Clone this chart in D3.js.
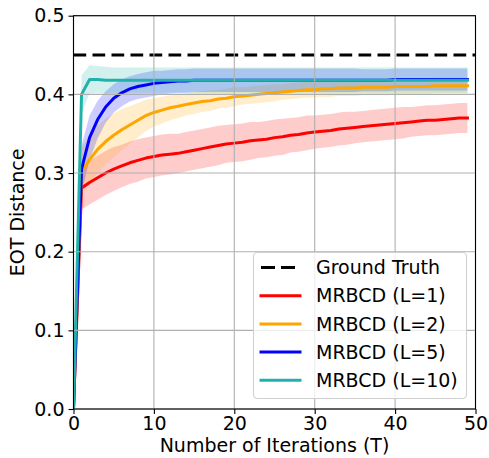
<!DOCTYPE html>
<html>
<head>
<meta charset="utf-8">
<script src="https://cdn.jsdelivr.net/npm/d3@7"></script>
<style>
  html, body { margin: 0; padding: 0; background: #fff; }
  svg { display: block; font-family: "DejaVu Sans", sans-serif; }
</style>
</head>
<body>
<svg id="chart" width="489" height="458"></svg>
<script>
// Iteration index T = 0..49
const iterations = d3.range(0, 50);

const groundTruth = 0.45;

// Mean EOT distance per iteration
const meanL1 = [
  0.000, 0.281, 0.288, 0.294, 0.300, 0.305, 0.309, 0.313, 0.316, 0.319,
  0.321, 0.323, 0.324, 0.325, 0.327, 0.329, 0.331, 0.333, 0.335, 0.337,
  0.338, 0.339, 0.341, 0.342, 0.343, 0.345, 0.346, 0.348, 0.349, 0.351,
  0.352, 0.353, 0.354, 0.356, 0.357, 0.358, 0.359, 0.360, 0.361, 0.362,
  0.363, 0.364, 0.365, 0.366, 0.367, 0.367, 0.368, 0.369, 0.370, 0.370
];
const meanL2 = [
  0.000, 0.302, 0.317, 0.330, 0.340, 0.348, 0.355, 0.361, 0.367, 0.373,
  0.377, 0.380, 0.383, 0.385, 0.387, 0.389, 0.391, 0.392, 0.394, 0.395,
  0.397, 0.398, 0.399, 0.400, 0.401, 0.402, 0.403, 0.404, 0.405, 0.406,
  0.406, 0.407, 0.407, 0.408, 0.408, 0.408, 0.409, 0.409, 0.409, 0.409,
  0.410, 0.410, 0.410, 0.410, 0.410, 0.411, 0.411, 0.411, 0.411, 0.411
];
const meanL5 = [
  0.000, 0.305, 0.345, 0.368, 0.384, 0.395, 0.402, 0.407, 0.410, 0.412,
  0.414, 0.415, 0.416, 0.417, 0.417, 0.418, 0.418, 0.418, 0.418, 0.418,
  0.418, 0.418, 0.418, 0.418, 0.418, 0.418, 0.418, 0.418, 0.418, 0.418,
  0.418, 0.418, 0.418, 0.418, 0.418, 0.418, 0.418, 0.418, 0.418, 0.418,
  0.419, 0.419, 0.419, 0.419, 0.419, 0.419, 0.419, 0.419, 0.419, 0.419
];
const meanL10 = [
  0.000, 0.400, 0.419, 0.419, 0.418, 0.418, 0.418, 0.418, 0.418, 0.418,
  0.418, 0.418, 0.418, 0.418, 0.418, 0.418, 0.418, 0.418, 0.418, 0.418,
  0.418, 0.418, 0.418, 0.418, 0.418, 0.418, 0.418, 0.418, 0.418, 0.418,
  0.418, 0.418, 0.418, 0.418, 0.418, 0.418, 0.418, 0.418, 0.418, 0.418,
  0.418, 0.418, 0.418, 0.418, 0.418, 0.418, 0.418, 0.418, 0.418, 0.418
];

// Spread (half-width of the shaded band) per iteration
const spreadL1 = [
  0.000, 0.027, 0.028, 0.028, 0.028, 0.028, 0.027, 0.027, 0.027, 0.026,
  0.026, 0.026, 0.026, 0.025, 0.025, 0.025, 0.025, 0.025, 0.025, 0.024,
  0.024, 0.024, 0.024, 0.023, 0.023, 0.023, 0.023, 0.022, 0.022, 0.022,
  0.021, 0.021, 0.021, 0.021, 0.021, 0.020, 0.020, 0.020, 0.020, 0.020,
  0.020, 0.020, 0.019, 0.019, 0.019, 0.019, 0.019, 0.019, 0.019, 0.019
];
const spreadL2 = [
  0.000, 0.030, 0.031, 0.030, 0.029, 0.028, 0.026, 0.024, 0.022, 0.020,
  0.018, 0.017, 0.016, 0.015, 0.014, 0.014, 0.013, 0.013, 0.012, 0.012,
  0.012, 0.011, 0.011, 0.011, 0.011, 0.011, 0.010, 0.010, 0.010, 0.010,
  0.010, 0.010, 0.010, 0.010, 0.010, 0.010, 0.010, 0.010, 0.010, 0.010,
  0.010, 0.010, 0.010, 0.010, 0.010, 0.010, 0.010, 0.010, 0.010, 0.010
];
const spreadL5 = [
  0.000, 0.030, 0.028, 0.024, 0.020, 0.018, 0.017, 0.016, 0.016, 0.016,
  0.016, 0.015, 0.015, 0.015, 0.015, 0.015, 0.015, 0.015, 0.015, 0.015,
  0.015, 0.015, 0.015, 0.015, 0.015, 0.015, 0.015, 0.015, 0.015, 0.015,
  0.015, 0.015, 0.015, 0.015, 0.015, 0.015, 0.014, 0.014, 0.014, 0.014,
  0.014, 0.014, 0.014, 0.014, 0.014, 0.014, 0.014, 0.014, 0.014, 0.014
];
const spreadL10 = [
  0.000, 0.024, 0.018, 0.017, 0.017, 0.016, 0.016, 0.016, 0.016, 0.016,
  0.016, 0.016, 0.016, 0.016, 0.016, 0.016, 0.016, 0.016, 0.016, 0.016,
  0.016, 0.016, 0.016, 0.016, 0.016, 0.016, 0.016, 0.016, 0.016, 0.016,
  0.016, 0.016, 0.016, 0.016, 0.016, 0.016, 0.016, 0.016, 0.016, 0.016,
  0.016, 0.016, 0.016, 0.016, 0.016, 0.016, 0.016, 0.016, 0.016, 0.016
];

const seriesLabels = ["MRBCD (L=1)", "MRBCD (L=2)", "MRBCD (L=5)", "MRBCD (L=10)"];
const seriesColors = ["#ff0000", "#ffa500", "#0000ff", "#20b2aa"];
const seriesMeans = [meanL1, meanL2, meanL5, meanL10];
const seriesSpreads = [spreadL1, spreadL2, spreadL5, spreadL10];

const xTicks = [0, 10, 20, 30, 40, 50];
const yTicks = [0.0, 0.1, 0.2, 0.3, 0.4, 0.5];

const svg = d3.select("#chart");
const margin = { left: 73.5, right: 475.5, top: 15.7, bottom: 409 };

const x = d3.scaleLinear().domain([0, 50]).range([margin.left, margin.right]);
const y = d3.scaleLinear().domain([0, 0.5]).range([margin.bottom, margin.top]);

svg.append("defs").append("clipPath").attr("id", "plot-clip")
  .append("rect")
  .attr("x", margin.left).attr("y", margin.top)
  .attr("width", margin.right - margin.left)
  .attr("height", margin.bottom - margin.top);

const series = seriesLabels.map((label, i) => ({
  label,
  color: seriesColors[i],
  points: iterations.map((t, k) => ({
    t, m: seriesMeans[i][k], s: seriesSpreads[i][k]
  }))
}));

const plot = svg.append("g").attr("clip-path", "url(#plot-clip)");

// shaded spread bands
const area = d3.area()
  .x(d => x(d.t))
  .y0(d => y(d.m - d.s))
  .y1(d => y(d.m + d.s));
plot.selectAll("path.band").data(series).join("path")
  .attr("class", "band")
  .attr("d", d => area(d.points))
  .attr("fill", d => d.color)
  .attr("fill-opacity", 0.2)
  .attr("stroke", "none");

// grid
const grid = svg.append("g");
grid.selectAll("line.gx").data(xTicks).join("line")
  .attr("x1", d => x(d)).attr("x2", d => x(d))
  .attr("y1", margin.top).attr("y2", margin.bottom)
  .attr("stroke", "#b0b0b0").attr("stroke-width", 1.1);
grid.selectAll("line.gy").data(yTicks).join("line")
  .attr("x1", margin.left).attr("x2", margin.right)
  .attr("y1", d => y(d)).attr("y2", d => y(d))
  .attr("stroke", "#b0b0b0").attr("stroke-width", 1.1);

// ground truth reference
plot.append("line")
  .attr("x1", x(0)).attr("x2", x(50))
  .attr("y1", y(groundTruth)).attr("y2", y(groundTruth))
  .attr("stroke", "#000").attr("stroke-width", 3)
  .attr("stroke-dasharray", "12.7,6.3");

// mean lines
const line = d3.line().x(d => x(d.t)).y(d => y(d.m));
plot.selectAll("path.mean").data(series).join("path")
  .attr("class", "mean")
  .attr("d", d => line(d.points))
  .attr("fill", "none")
  .attr("stroke", d => d.color)
  .attr("stroke-width", 3)
  .attr("stroke-linejoin", "round")
  .attr("stroke-linecap", "square");

// axes
const fontSize = 19;
const xAxis = svg.append("g")
  .attr("transform", `translate(0,${margin.bottom})`)
  .call(d3.axisBottom(x).tickValues(xTicks).tickFormat(d3.format("d"))
    .tickSize(5).tickPadding(3));
const yAxis = svg.append("g")
  .attr("transform", `translate(${margin.left},0)`)
  .call(d3.axisLeft(y).tickValues(yTicks).tickFormat(d3.format(".1f"))
    .tickSize(5).tickPadding(4));
[xAxis, yAxis].forEach(g => {
  g.select(".domain").remove();
  g.selectAll(".tick line").attr("stroke", "#000").attr("stroke-width", 1.1);
  g.selectAll(".tick text")
    .attr("fill", "#000")
    .style("font-family", "'DejaVu Sans', sans-serif")
    .style("font-size", fontSize + "px");
});

// frame
svg.append("rect")
  .attr("x", margin.left).attr("y", margin.top)
  .attr("width", margin.right - margin.left)
  .attr("height", margin.bottom - margin.top)
  .attr("fill", "none").attr("stroke", "#000").attr("stroke-width", 1.1);

// axis titles
svg.append("text")
  .attr("x", (margin.left + margin.right) / 2)
  .attr("y", 452)
  .attr("text-anchor", "middle")
  .style("font-size", fontSize + "px")
  .text("Number of Iterations (T)");
svg.append("text")
  .attr("transform", `translate(24,${(margin.top + margin.bottom) / 2}) rotate(-90)`)
  .attr("text-anchor", "middle")
  .style("font-size", fontSize + "px")
  .text("EOT Distance");

// legend
const legendItems = [{ label: "Ground Truth", color: "#000", dash: true }]
  .concat(series.map(s => ({ label: s.label, color: s.color, dash: false })));
const legend = svg.append("g");
legend.append("rect")
  .attr("x", 253.5).attr("y", 252.5)
  .attr("width", 213).attr("height", 146)
  .attr("rx", 4).attr("ry", 4)
  .attr("fill", "#fff").attr("fill-opacity", 0.8)
  .attr("stroke", "#d0d0d0").attr("stroke-width", 1.1);
const rows = legend.selectAll("g.row").data(legendItems).join("g")
  .attr("class", "row")
  .attr("transform", (d, i) => `translate(0,${267.5 + i * 28.2})`);
rows.append("line")
  .attr("x1", 261).attr("x2", 300)
  .attr("y1", 0).attr("y2", 0)
  .attr("stroke", d => d.color)
  .attr("stroke-width", 3)
  .attr("stroke-linecap", d => d.dash ? "butt" : "square")
  .attr("stroke-dasharray", d => d.dash ? "14,6" : null);
rows.append("text")
  .attr("x", 316).attr("y", 0).attr("dy", "0.35em")
  .style("font-size", fontSize + "px")
  .text(d => d.label);
</script>
</body>
</html>
